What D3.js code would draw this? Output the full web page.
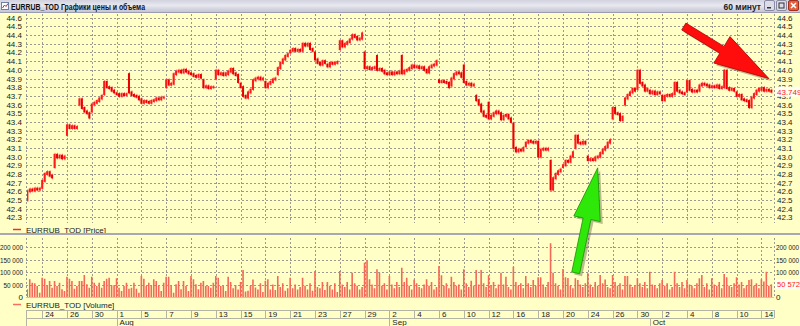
<!DOCTYPE html>
<html>
<head>
<meta charset="utf-8">
<script src="https://cdn.jsdelivr.net/npm/d3@7"></script>
<style>
  html, body { margin: 0; padding: 0; overflow: hidden; background: #ffffc6; }
  svg { display: block; font-family: "Liberation Sans", Arial, sans-serif; }
</style>
</head>
<body>
<div id="viz"></div>
<script>
// trading days shown (MM-DD, 2013); 5 hourly candles per day
const tradingDays = ["07-22","07-23","07-24","07-25","07-26","07-29","07-30","07-31",
    "08-01","08-02","08-05","08-06","08-07","08-08","08-09","08-12","08-13","08-14","08-15","08-16",
    "08-19","08-20","08-21","08-22","08-23","08-26","08-27","08-28","08-29","08-30",
    "09-02","09-03","09-04","09-05","09-06","09-09","09-10","09-11","09-12","09-13","09-16","09-17",
    "09-18","09-19","09-20","09-23","09-24","09-25","09-26","09-27","09-30",
    "10-01","10-02","10-03","10-04","10-07","10-08","10-09","10-10","10-11","10-14"];

const monthNames = ["Aug", "Sep", "Oct"];
const monthFirstDays = ["08-01", "09-02", "10-01"];

// price of the first candle's open each day, then hourly closes
const openJul = [42.45, 42.6, 42.64, 42.88, 43.25, 43.6, 43.52, 43.72];
const closeJul = [
    [42.5, 42.6],
    [42.62, 42.61, 42.63, 42.62, 42.63],
    [42.72, 42.8, 42.82, 42.78, 42.76],
    [43.02, 42.99, 43.01, 42.98, 43.0],
    [43.36, 43.33, 43.35, 43.33, 43.34],
    [43.66, 43.56, 43.52, 43.5, 43.45],
    [43.6, 43.62, 43.64, 43.67, 43.7],
    [43.86, 43.8, 43.79, 43.76, 43.74]];

const openAug = [43.73, 43.95, 43.66, 43.64, 43.8, 43.98, 43.96, 43.88, 43.9, 43.95, 43.84,
    43.78, 43.86, 43.95, 44.2, 44.22, 44.2, 44.06, 44.24, 44.36, 44.2, 44.16];
const closeAug = [
    [43.72, 43.7, 43.72, 43.71, 43.72],
    [43.74, 43.71, 43.7, 43.69, 43.66],
    [43.62, 43.64, 43.63, 43.62, 43.64],
    [43.65, 43.67, 43.66, 43.68, 43.68],
    [43.88, 43.83, 43.84, 43.95, 43.98],
    [43.99, 43.97, 44.0, 43.98, 43.96],
    [43.95, 43.93, 43.92, 43.94, 43.91],
    [43.8, 43.81, 43.79, 43.8, 43.8],
    [43.99, 43.95, 43.96, 43.94, 43.96],
    [43.98, 44.01, 43.96, 43.94, 43.86],
    [43.8, 43.7, 43.68, 43.74, 43.77],
    [43.88, 43.9, 43.91, 43.89, 43.9],
    [43.8, 43.84, 43.86, 43.89, 43.9],
    [44.02, 44.08, 44.12, 44.16, 44.18],
    [44.22, 44.24, 44.22, 44.23, 44.22],
    [44.3, 44.28, 44.3, 44.24, 44.22],
    [44.12, 44.08, 44.06, 44.1, 44.08],
    [44.04, 44.08, 44.07, 44.08, 44.09],
    [44.33, 44.27, 44.3, 44.32, 44.35],
    [44.4, 44.38, 44.35, 44.36, 44.42],
    [44.02, 44.03, 44.01, 44.02, 44.03],
    [44.0, 44.01, 43.99, 43.96, 43.95]];

const openSep = [43.95, 44.16, 44.05, 44.0, 43.88, 43.82, 44.05, 43.7, 43.62, 43.5, 43.38,
    43.12, 43.17, 42.95, 42.88, 43.1, 43.0, 43.0, 43.44, 43.6, 43.78];
const closeSep = [
    [43.97, 43.95, 43.97, 43.96, 43.98],
    [43.96, 43.99, 44.0, 44.02, 44.05],
    [44.03, 44.04, 44.02, 44.03, 44.0],
    [43.97, 44.03, 44.05, 44.06, 44.1],
    [43.86, 43.87, 43.86, 43.85, 43.8],
    [43.9, 43.95, 43.97, 43.96, 43.92],
    [43.86, 43.83, 43.84, 43.82, 43.83],
    [43.65, 43.6, 43.52, 43.47, 43.46],
    [43.44, 43.47, 43.5, 43.52, 43.5],
    [43.43, 43.47, 43.48, 43.44, 43.4],
    [43.1, 43.06, 43.08, 43.07, 43.1],
    [43.16, 43.18, 43.17, 43.16, 43.17],
    [43.0, 43.08, 43.09, 43.08, 43.09],
    [42.62, 42.75, 42.8, 42.83, 42.85],
    [42.9, 42.95, 42.94, 43.0, 43.05],
    [43.24, 43.16, 43.15, 43.17, 43.15],
    [42.96, 42.97, 42.96, 42.99, 43.0],
    [43.04, 43.08, 43.11, 43.16, 43.19],
    [43.56, 43.5, 43.49, 43.42, 43.46],
    [43.67, 43.71, 43.74, 43.78, 43.76],
    [43.99, 43.85, 43.82, 43.76, 43.78]];

const openOct = [43.76, 43.7, 43.72, 43.75, 43.76, 43.8, 43.8, 43.74, 43.64, 43.77];
const closeOct = [
    [43.73, 43.75, 43.72, 43.74, 43.73],
    [43.65, 43.7, 43.71, 43.7, 43.72],
    [43.85, 43.76, 43.74, 43.73, 43.72],
    [43.87, 43.77, 43.75, 43.76, 43.75],
    [43.82, 43.84, 43.83, 43.82, 43.8],
    [43.81, 43.8, 43.82, 43.79, 43.8],
    [43.99, 43.79, 43.77, 43.78, 43.76],
    [43.7, 43.71, 43.66, 43.65, 43.64],
    [43.57, 43.68, 43.72, 43.76, 43.78],
    [43.79, 43.76, 43.77, 43.76, 43.749]];

// hourly volume, thousands
const volJul = [
    [28, 31],
    [71, 57, 55, 44, 17],
    [77, 73, 44, 64, 37],
    [64, 44, 57, 31, 24],
    [81, 73, 64, 33, 44],
    [64, 64, 88, 51, 37],
    [81, 57, 44, 57, 37],
    [64, 73, 77, 47, 47]];
const volAug = [
    [75, 37, 24, 44, 57], [33, 37, 57, 33, 17], [84, 73, 44, 57, 44], [71, 64, 44, 24, 57],
    [81, 81, 44, 17, 51], [64, 31, 64, 44, 24], [84, 71, 51, 31, 57], [64, 44, 44, 37, 57],
    [84, 77, 44, 44, 24], [81, 60, 35, 48, 30], [60, 108, 22, 25, 45], [70, 38, 30, 55, 20],
    [65, 71, 30, 50, 28], [84, 40, 55, 25, 35], [77, 35, 50, 30, 40], [77, 45, 30, 55, 25],
    [104, 40, 35, 60, 28], [60, 45, 30, 55, 20], [104, 50, 40, 60, 30], [97, 55, 45, 30, 40],
    [137, 148, 71, 50, 35], [111, 97, 45, 55, 30]];
const volSep = [
    [84, 50, 35, 60, 40], [117, 60, 77, 45, 30], [70, 55, 40, 35, 50], [71, 45, 60, 30, 40],
    [124, 87, 45, 55, 35], [81, 60, 45, 50, 30], [111, 55, 40, 65, 45], [108, 50, 108, 55, 40],
    [87, 45, 60, 35, 50], [97, 50, 81, 40, 30], [121, 60, 45, 55, 35], [84, 55, 40, 68, 45],
    [79, 79, 50, 40, 60], [215, 97, 55, 45, 30], [112, 79, 76, 45, 35], [75, 68, 50, 40, 55],
    [95, 50, 40, 60, 45], [88, 55, 70, 40, 35], [88, 60, 45, 55, 30], [84, 84, 50, 40, 45],
    [75, 55, 40, 60, 35]];
const volOct = [
    [101, 50, 45, 35, 55], [68, 45, 55, 30, 40], [101, 55, 40, 60, 35], [68, 50, 45, 35, 55],
    [75, 88, 40, 55, 30], [75, 50, 45, 60, 35], [92, 79, 45, 40, 55], [79, 50, 60, 35, 45],
    [68, 71, 45, 55, 35], [71, 62, 101, 45, 50.572]];

const priceTicks = [42.3, 42.4, 42.5, 42.6, 42.7, 42.8, 42.9, 43.0, 43.1, 43.2, 43.3, 43.4,
    43.5, 43.6, 43.7, 43.8, 43.9, 44.0, 44.1, 44.2, 44.3, 44.4, 44.5, 44.6];
const volumeTicks = [0, 50000, 100000, 150000, 200000];

// arrows drawn over the chart: tip in data units, tail as pixel offset
const arrowNotes = [
    { day: "10-14", hour: 3, price: 43.9, dx: -85, dy: -52, shaft: 4, head: 15.5, len: 55, fill: "#ff0d0d", edge: "#b00000" },
    { day: "09-24", hour: 4, price: 42.87, dx: -22, dy: 105, shaft: 4, head: 13.5, len: 52, fill: "#2ee80a", edge: "#189000" }
];

// ------------------------------------------------------------------
const width = 800, height = 326;
const plotL = 26, plotR = 774;
const priceTop = 14, priceBottom = 223;
const volTop = 238, volBottom = 297;

const opens = [...openJul, ...openAug, ...openSep, ...openOct];
const closes = [...closeJul, ...closeAug, ...closeSep, ...closeOct];
const vols = [...volJul, ...volAug, ...volSep, ...volOct];

const candles = [];
const dayFirst = [];
closes.forEach((day, d) => {
    dayFirst.push(candles.length);
    day.forEach((c, k) => {
        candles.push({
            i: candles.length,
            open: k ? day[k - 1] : opens[d],
            close: c,
            vol: vols[d][k] * 1000
        });
    });
});

const x = d3.scaleLinear().domain([0, candles.length - 1]).range([24.8, 771.3]);
const yPrice = d3.scaleLinear().domain([42.3, 44.6]).range([217.3, 17.8]);
const yVol = d3.scaleLinear().domain([0, 200000]).range([297, 247]);

const locale = d3.formatLocale({ decimal: ".", thousands: " ", grouping: [3], currency: ["", ""] });
const fmtVol = locale.format(",");
const fmtPrice = d3.format(".1f");

const svg = d3.select("#viz").append("svg")
    .attr("width", width)
    .attr("height", height);

const defs = svg.append("defs");
const grad = defs.append("linearGradient").attr("id", "titleGrad").attr("x1", 0).attr("y1", 0).attr("x2", 0).attr("y2", 1);
grad.append("stop").attr("offset", "0%").attr("stop-color", "#d2d2e0");
grad.append("stop").attr("offset", "45%").attr("stop-color", "#e8e8f0");
grad.append("stop").attr("offset", "100%").attr("stop-color", "#c4c4d4");
defs.append("clipPath").attr("id", "plotClip")
    .append("rect").attr("x", plotL + 1).attr("y", 0).attr("width", plotR - plotL).attr("height", height);

svg.append("rect").attr("width", width).attr("height", height).attr("fill", "#ffffc6");

// title bar
svg.append("rect").attr("x", 0).attr("y", 0).attr("width", width).attr("height", 12).attr("fill", "url(#titleGrad)");
svg.append("line").attr("x1", 0).attr("x2", width).attr("y1", 12.5).attr("y2", 12.5).attr("stroke", "#9c9cb0");
svg.append("rect").attr("x", 1.5).attr("y", 2.5).attr("width", 7).attr("height", 7).attr("fill", "#fff").attr("stroke", "#7080a0");
svg.append("polyline").attr("points", "2.5,8 4.5,5 6,6.5 8,3.5").attr("fill", "none").attr("stroke", "#d02020");
svg.append("text").attr("x", 11).attr("y", 9.5).attr("font-size", "8.5px").attr("fill", "#111")
    .attr("font-weight", "bold").attr("textLength", 134).attr("lengthAdjust", "spacingAndGlyphs")
    .text("EURRUB_TOD Графики цены и объема");
svg.append("text").attr("x", 761).attr("y", 9.5).attr("font-size", "8.5px").attr("font-weight", "bold")
    .attr("text-anchor", "end").attr("fill", "#222").text("60 минут");

const buttons = [{ x: 764, kind: "min" }, { x: 776, kind: "max" }, { x: 788, kind: "close" }];
buttons.forEach(b => {
    svg.append("rect").attr("x", b.x + 0.5).attr("y", 0.5).attr("width", 10).attr("height", 10).attr("rx", 1.5)
        .attr("fill", b.kind === "close" ? "#e2603e" : "#dcdce8")
        .attr("stroke", b.kind === "close" ? "#a03020" : "#8a8aa4");
    if (b.kind === "min") {
        svg.append("rect").attr("x", b.x + 3).attr("y", 7).attr("width", 4).attr("height", 1.5).attr("fill", "#333");
    } else if (b.kind === "max") {
        svg.append("rect").attr("x", b.x + 3).attr("y", 3).attr("width", 5).attr("height", 5)
            .attr("fill", "none").attr("stroke", "#333");
    } else {
        svg.append("path").attr("d", `M${b.x + 3},3 L${b.x + 8},8 M${b.x + 8},3 L${b.x + 3},8`)
            .attr("stroke", "#fff").attr("stroke-width", 1.5);
    }
});

const gridColor = "#9a9a90";

// labeled day boundaries: every second trading day from Jul 24
const labeledDays = tradingDays.map((d, idx) => ({ d, idx })).filter(o => o.idx >= 2 && o.idx % 2 === 0);
const snap = v => Math.round(v) + 0.5;
const last = candles[candles.length - 1];

// price panel grid
svg.append("g").selectAll("line").data(priceTicks).enter().append("line")
    .attr("x1", plotL).attr("x2", plotR)
    .attr("y1", d => snap(yPrice(d))).attr("y2", d => snap(yPrice(d)))
    .attr("stroke", gridColor).attr("stroke-dasharray", "2,2");
svg.append("g").selectAll("line").data(labeledDays).enter().append("line")
    .attr("x1", o => snap(x(dayFirst[o.idx]))).attr("x2", o => snap(x(dayFirst[o.idx])))
    .attr("y1", priceTop).attr("y2", priceBottom)
    .attr("stroke", gridColor).attr("stroke-dasharray", "2,2");
[plotL, plotR].forEach(px => {
    svg.append("line").attr("x1", px + 0.5).attr("x2", px + 0.5).attr("y1", priceTop).attr("y2", priceBottom)
        .attr("stroke", gridColor).attr("stroke-dasharray", "2,2");
    svg.append("line").attr("x1", px + 0.5).attr("x2", px + 0.5).attr("y1", volTop).attr("y2", volBottom)
        .attr("stroke", gridColor).attr("stroke-dasharray", "2,2");
});

// price axis labels, both sides
svg.append("g").selectAll("text").data(priceTicks).enter().append("text")
    .attr("x", 22).attr("y", d => yPrice(d) + 3)
    .attr("text-anchor", "end").attr("font-size", "8px").attr("fill", "#222")
    .text(fmtPrice);
svg.append("g").selectAll("text").data(priceTicks).enter().append("text")
    .attr("x", 777).attr("y", d => yPrice(d) + 3)
    .attr("font-size", "8px").attr("fill", "#222")
    .text(fmtPrice);

// candles: thin light wick behind a solid body
const candleG = svg.append("g").attr("clip-path", "url(#plotClip)");
candleG.selectAll("line").data(candles).enter().append("line")
    .attr("x1", d => x(d.i) + 0.5).attr("x2", d => x(d.i) + 0.5)
    .attr("y1", d => Math.min(yPrice(d.open), yPrice(d.close)) - 2)
    .attr("y2", d => Math.max(yPrice(d.open), yPrice(d.close)) + 2)
    .attr("stroke", "#ff7a7a").attr("stroke-width", 1);
candleG.selectAll("rect").data(candles).enter().append("rect")
    .attr("x", d => x(d.i) - 1)
    .attr("width", 2)
    .attr("y", d => Math.min(yPrice(d.open), yPrice(d.close)) - 1)
    .attr("height", d => Math.max(2, Math.abs(yPrice(d.open) - yPrice(d.close)) + 2))
    .attr("fill", d => d.close >= d.open ? "#ff1a1a" : "#e80000");

// last price marker
svg.append("rect").attr("x", 775).attr("y", yPrice(last.close) - 5).attr("width", 26).attr("height", 10)
    .attr("fill", "#fffff2");
svg.append("text").attr("x", 777).attr("y", yPrice(last.close) + 3)
    .attr("font-size", "8px").attr("fill", "#ff2020").text(last.close.toFixed(3));

// price legend
svg.append("line").attr("x1", 13).attr("x2", 21).attr("y1", 229.5).attr("y2", 229.5).attr("stroke", "#f03020").attr("stroke-width", 1.5);
svg.append("text").attr("x", 26).attr("y", 232.5).attr("font-size", "8px").attr("fill", "#222").text("EURRUB_TOD [Price]");

// panel separator
svg.append("rect").attr("x", 0).attr("y", 233).attr("width", width).attr("height", 2).attr("fill", "#a8a8b4");
svg.append("line").attr("x1", 0).attr("x2", width).attr("y1", 235.5).attr("y2", 235.5).attr("stroke", "#fafaf0");

// volume panel grid
svg.append("g").selectAll("line").data(volumeTicks).enter().append("line")
    .attr("x1", plotL).attr("x2", plotR)
    .attr("y1", d => snap(yVol(d))).attr("y2", d => snap(yVol(d)))
    .attr("stroke", d => d === 0 ? "#c8c8b4" : gridColor).attr("stroke-dasharray", d => d === 0 ? null : "2,2");
svg.append("g").selectAll("line").data(labeledDays).enter().append("line")
    .attr("x1", o => snap(x(dayFirst[o.idx]))).attr("x2", o => snap(x(dayFirst[o.idx])))
    .attr("y1", volTop).attr("y2", volBottom)
    .attr("stroke", gridColor).attr("stroke-dasharray", "2,2");

// volume labels: six-digit ones set smaller to fit the narrow margins;
// on the right, the tick hidden under the last-volume marker is skipped
const volFont = d => fmtVol(d).length > 5 ? "6.4px" : "8px";
svg.append("g").selectAll("text").data(volumeTicks).enter().append("text")
    .attr("x", 23).attr("y", d => yVol(d) + 3)
    .attr("text-anchor", "end").attr("font-size", volFont).attr("fill", "#222")
    .text(fmtVol);
svg.append("g").selectAll("text")
    .data(volumeTicks.filter(d => Math.abs(yVol(d) - yVol(last.vol)) > 6)).enter().append("text")
    .attr("x", 776).attr("y", d => yVol(d) + 3)
    .attr("font-size", volFont).attr("fill", "#222")
    .text(fmtVol);

// volume bars
svg.append("g").attr("clip-path", "url(#plotClip)")
    .selectAll("rect").data(candles).enter().append("rect")
    .attr("x", d => x(d.i) - 0.8)
    .attr("width", 1.6)
    .attr("y", d => yVol(d.vol))
    .attr("height", d => yVol(0) - yVol(d.vol))
    .attr("fill", "#f36a58");

svg.append("rect").attr("x", 775).attr("y", yVol(last.vol) - 5).attr("width", 25).attr("height", 10)
    .attr("fill", "#fffff2");
svg.append("text").attr("x", 777).attr("y", yVol(last.vol) + 3)
    .attr("font-size", "7.5px").attr("fill", "#ff2020")
    .text(fmtVol(Math.round(last.vol)));

// volume legend
svg.append("line").attr("x1", 13).attr("x2", 21).attr("y1", 304.5).attr("y2", 304.5).attr("stroke", "#f57060").attr("stroke-width", 1.5);
svg.append("text").attr("x", 26).attr("y", 307.5).attr("font-size", "8px").attr("fill", "#222").text("EURRUB_TOD [Volume]");

// date rows
const rowColor = "#b4b4a4";
const dateTop = 310, dateMid = 318;
svg.append("line").attr("x1", plotL).attr("x2", plotR).attr("y1", dateTop + 0.5).attr("y2", dateTop + 0.5).attr("stroke", rowColor);
svg.append("line").attr("x1", plotL).attr("x2", plotR).attr("y1", dateMid + 0.5).attr("y2", dateMid + 0.5).attr("stroke", rowColor);
svg.append("line").attr("x1", plotL + 0.5).attr("x2", plotL + 0.5).attr("y1", dateTop).attr("y2", height).attr("stroke", rowColor);
svg.append("line").attr("x1", plotR + 0.5).attr("x2", plotR + 0.5).attr("y1", dateTop).attr("y2", dateMid).attr("stroke", rowColor);

const dayCells = svg.append("g").selectAll("g").data(labeledDays).enter().append("g");
dayCells.append("line")
    .attr("x1", o => snap(x(dayFirst[o.idx]))).attr("x2", o => snap(x(dayFirst[o.idx])))
    .attr("y1", dateTop).attr("y2", dateMid).attr("stroke", rowColor);
dayCells.append("text")
    .attr("x", o => x(dayFirst[o.idx]) + 3).attr("y", 316.5)
    .attr("font-size", "8px").attr("fill", "#222")
    .text(o => +o.d.slice(3));

const months = svg.append("g").selectAll("g").data(monthNames).enter().append("g");
months.append("line")
    .attr("x1", (m, j) => snap(x(dayFirst[tradingDays.indexOf(monthFirstDays[j])])))
    .attr("x2", (m, j) => snap(x(dayFirst[tradingDays.indexOf(monthFirstDays[j])])))
    .attr("y1", dateMid).attr("y2", height).attr("stroke", rowColor);
months.append("text")
    .attr("x", (m, j) => x(dayFirst[tradingDays.indexOf(monthFirstDays[j])]) + 3).attr("y", 325)
    .attr("font-size", "8px").attr("fill", "#222")
    .text(m => m);

// annotation arrows
arrowNotes.forEach(a => {
    const tip = [x(dayFirst[tradingDays.indexOf(a.day)] + a.hour), yPrice(a.price)];
    const tail = [tip[0] + a.dx, tip[1] + a.dy];
    const dist = Math.hypot(tip[0] - tail[0], tip[1] - tail[1]);
    const u = [(tip[0] - tail[0]) / dist, (tip[1] - tail[1]) / dist];
    const n = [-u[1], u[0]];
    const base = [tip[0] - u[0] * a.len, tip[1] - u[1] * a.len];
    const pt = (p, s) => [p[0] + n[0] * s, p[1] + n[1] * s];
    const pts = [pt(tail, a.shaft), pt(base, a.shaft), pt(base, a.head), tip,
        pt(base, -a.head), pt(base, -a.shaft), pt(tail, -a.shaft)];
    const line = d3.line();
    svg.append("path").attr("d", line(pts.map(p => [p[0] + 2.5, p[1] + 2.5])) + "Z")
        .attr("fill", "#6a6a50").attr("opacity", 0.45);
    svg.append("path").attr("d", line(pts) + "Z")
        .attr("fill", a.fill).attr("stroke", a.edge).attr("stroke-width", 0.8);
});
</script>
</body>
</html>
